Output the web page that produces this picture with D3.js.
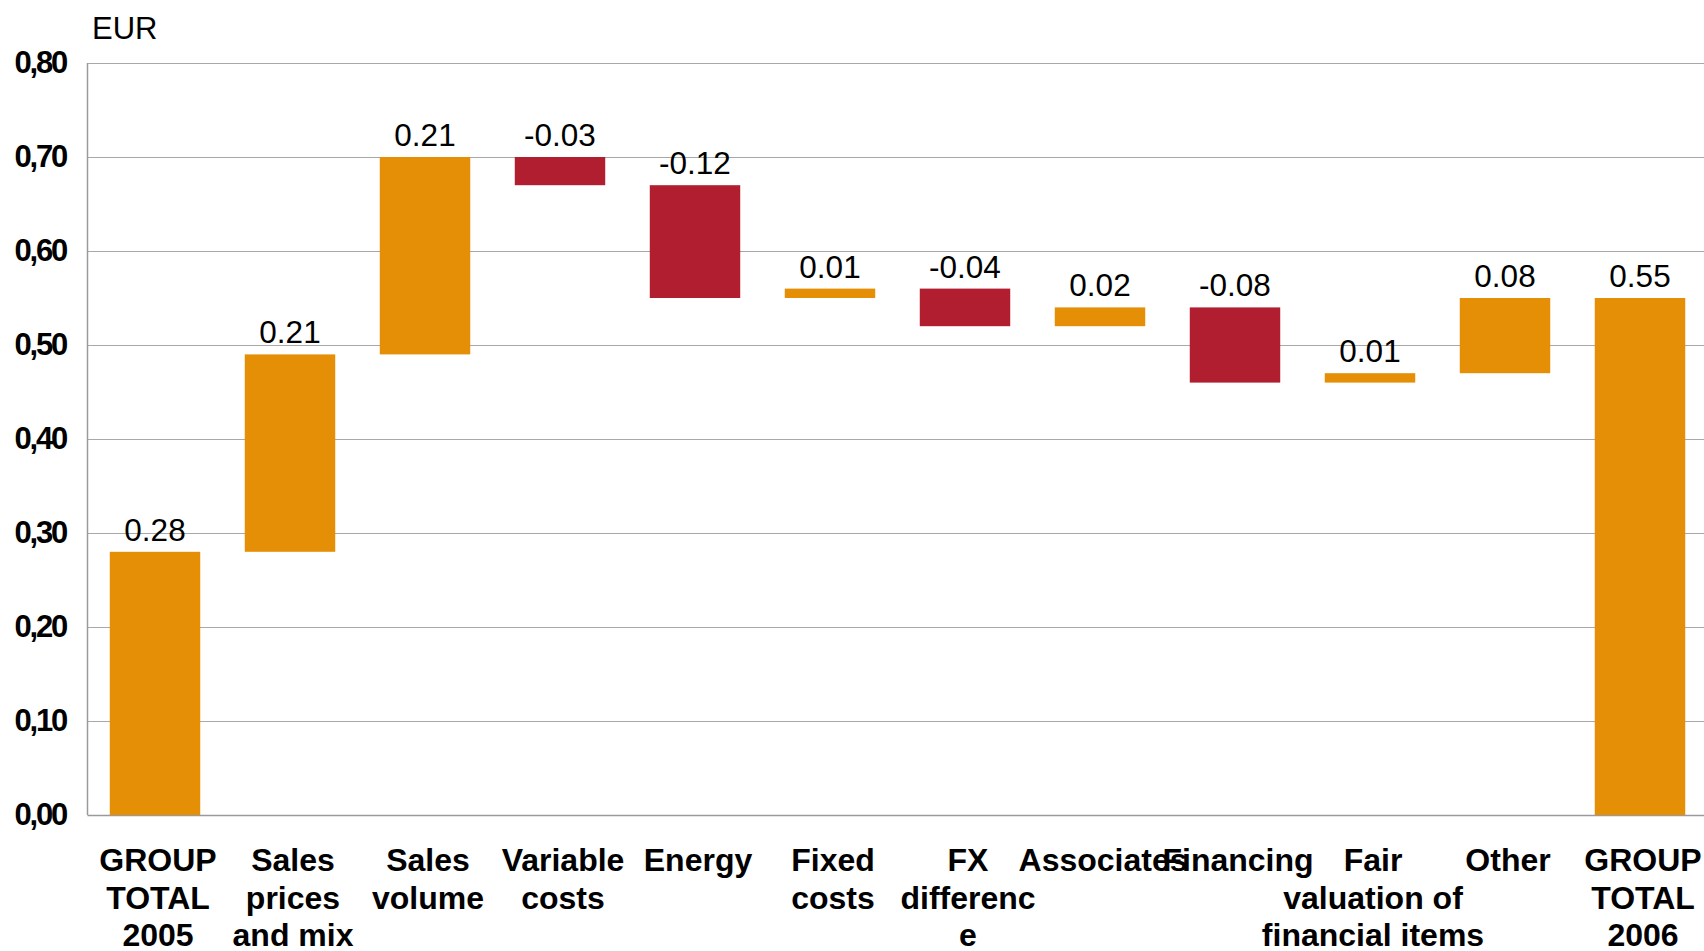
<!DOCTYPE html>
<html>
<head>
<meta charset="utf-8">
<script src="https://cdn.jsdelivr.net/npm/d3@7"></script>
<style>
  body { margin: 0; background: #fff; }
  text { font-family: Arial, "Liberation Sans", sans-serif; fill: #000; }
</style>
</head>
<body>
<svg id="chart"></svg>
<script>
// category labels, one entry per line as Excel wrapped them
const categories = [
  ["GROUP", "TOTAL", "2005"],
  ["Sales", "prices", "and mix"],
  ["Sales", "volume"],
  ["Variable", "costs"],
  ["Energy"],
  ["Fixed", "costs"],
  ["FX", "differenc", "e"],
  ["Associates"],
  ["Financing"],
  ["Fair", "valuation of", "financial items"],
  ["Other"],
  ["GROUP", "TOTAL", "2006"]
];
const deltas = [0.28, 0.21, 0.21, -0.03, -0.12, 0.01, -0.04, 0.02, -0.08, 0.01, 0.08, 0.55];
const isTotal = [true, false, false, false, false, false, false, false, false, false, false, true];
const yTicks = [0, 0.1, 0.2, 0.3, 0.4, 0.5, 0.6, 0.7, 0.8];

const width = 1704, height = 951;
const plotLeft = 87.5, plotTop = 63, plotBottom = 815;

const svg = d3.select("#chart").attr("width", width).attr("height", height);

// plain hyphen for negatives, like the original
const fmt = d3.formatLocale({ decimal: ".", thousands: ",", grouping: [3], currency: ["", ""], minus: "-" }).format(".2f");

// running totals for the waterfall
let run = 0;
const bars = deltas.map((d, i) => {
  let lo, hi;
  if (isTotal[i]) { lo = 0; hi = d; run = d; }
  else { lo = Math.min(run, run + d); hi = Math.max(run, run + d); run = run + d; }
  return { i, d, lo, hi, neg: d < 0 };
});

const x = d3.scaleBand()
  .domain(d3.range(categories.length))
  .range([plotLeft, plotLeft + 135 * categories.length])
  .paddingInner(0.33)
  .paddingOuter(0.165);

const y = d3.scaleLinear().domain([0, 0.8]).range([plotBottom, plotTop]);

// gridlines
svg.append("g")
  .selectAll("line")
  .data(yTicks)
  .join("line")
  .attr("x1", plotLeft)
  .attr("x2", width)
  .attr("y1", d => Math.round(y(d)) + 0.5)
  .attr("y2", d => Math.round(y(d)) + 0.5)
  .attr("stroke", d => d === 0 ? "#9a9a9a" : "#a8a8a8")
  .attr("stroke-width", d => d === 0 ? 1.5 : 1.2);

// y axis line
svg.append("line")
  .attr("x1", plotLeft).attr("x2", plotLeft)
  .attr("y1", y(0.8)).attr("y2", y(0))
  .attr("stroke", "#9a9a9a")
  .attr("stroke-width", 1.5);

// tick labels
svg.append("g")
  .selectAll("text")
  .data(yTicks)
  .join("text")
  .attr("x", 66)
  .attr("y", d => y(d) + 10)
  .attr("text-anchor", "end")
  .attr("font-size", 31)
  .attr("font-weight", "bold")
  .attr("letter-spacing", "-2.2px")
  .text(d => d3.format(".2f")(d).replace(".", ","));

svg.append("text")
  .attr("x", 92)
  .attr("y", 39)
  .attr("font-size", 31)
  .text("EUR");

// bars
svg.append("g")
  .selectAll("rect")
  .data(bars)
  .join("rect")
  .attr("x", d => x(d.i))
  .attr("width", x.bandwidth())
  .attr("y", d => y(d.hi))
  .attr("height", d => y(d.lo) - y(d.hi))
  .attr("fill", d => d.neg ? "#b01e2f" : "#e48f06");

// value labels
svg.append("g")
  .selectAll("text")
  .data(bars)
  .join("text")
  .attr("x", d => x(d.i) + x.bandwidth() / 2)
  .attr("y", d => y(d.hi) - 11)
  .attr("text-anchor", "middle")
  .attr("font-size", 31.5)
  .text(d => fmt(d.d));

// category labels
const cat = svg.append("g")
  .selectAll("text")
  .data(categories)
  .join("text")
  .attr("text-anchor", "middle")
  .attr("font-size", 32)
  .attr("font-weight", "bold")
  .attr("transform", (d, i) => `translate(${x(i) + x.bandwidth() / 2 + 3},871)`);

cat.selectAll("tspan")
  .data(d => d)
  .join("tspan")
  .attr("x", 0)
  .attr("y", (d, j) => j * 37.5)
  .text(d => d);
</script>
</body>
</html>
